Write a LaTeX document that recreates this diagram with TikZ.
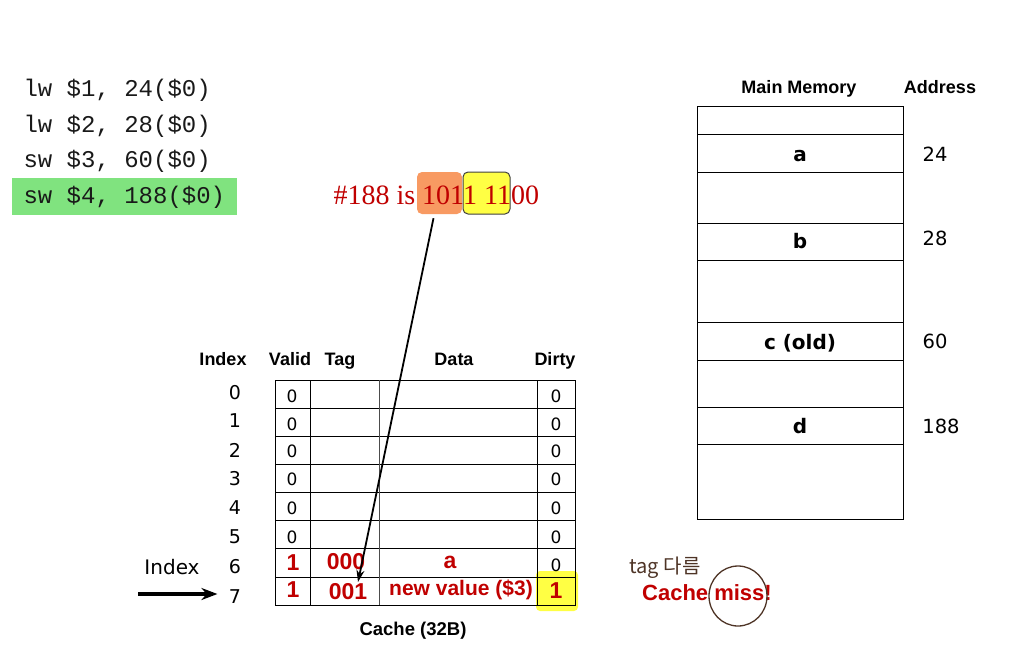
\documentclass[tikz,border=0pt]{standalone}
\usepackage{fontspec}
\setmainfont{Liberation Sans}
\newfontfamily\codefont{Liberation Mono}
\newfontfamily\timesfont{Liberation Serif}
\newfontfamily\tahfont{DejaVu Sans}
\newfontfamily\krfont{Noto Sans CJK KR}
\usetikzlibrary{arrows.meta,calc}
\definecolor{hlgreen}{HTML}{80E37F}
\definecolor{hlorange}{HTML}{F89A62}
\definecolor{hlyellow}{HTML}{FFFF44}
\definecolor{darkred}{HTML}{C00000}
\definecolor{inkbrown}{HTML}{4E3426}

\begin{document}
\begin{tikzpicture}[x=1pt, y=-1pt,
  code/.style={anchor=west, font=\codefont\fontsize{24}{26}\selectfont, text=black!90},
  head/.style={font=\bfseries\fontsize{18}{20}\selectfont, text height=13pt, text depth=4pt},
  idx/.style={font=\tahfont\fontsize{19}{21}\selectfont},
  cellnum/.style={font=\tahfont\fontsize{17}{19}\selectfont},
  hit/.style={font=\bfseries\fontsize{23}{25}\selectfont, text=darkred},
  memlbl/.style={font=\tahfont\bfseries\fontsize{20}{22}\selectfont, text height=15pt, text depth=4pt},
  addr/.style={font=\tahfont\fontsize{19.5}{22}\selectfont},
  bitbox/.style={rounded corners=5pt, minimum height=42pt, inner sep=0pt}]
  \useasboundingbox (0,0) rectangle (1020,648);

  \fill[hlgreen] (12,178) rectangle (237,215);
  \node[code] (ld1) at (20,90) {lw \$1, 24(\$0)};
  \node[code] (ld2) at (20,126) {lw \$2, 28(\$0)};
  \node[code] (st3) at (20,161) {sw \$3, 60(\$0)};
  \node[code] (st4) at (20,197) {sw \$4, 188(\$0)};

  \node[bitbox, fill=hlorange, minimum width=45pt] (tagbits) at (439.5,193) {};
  \node[bitbox, fill=hlyellow, draw=black!75, line width=1pt, minimum width=47pt] (idxbits) at (486.5,193) {};
  \node[anchor=west, font=\timesfont\fontsize{28}{30}\selectfont, text=darkred] (addr188) at (330,195) {\#188 is 1011 1100};

  \node[head] (hindex) at (223,361) {Index};
  \node[head] (hvalid) at (290,361) {Valid};
  \node[head] (htag) at (340,361) {Tag};
  \node[head] (hdata) at (454,361) {Data};
  \node[head] (hdirty) at (555,361) {Dirty};

  \fill[hlyellow, rounded corners=4pt] (536,571) rectangle (578,611);
  \draw[line width=1pt] (275,380) rectangle (575,605);
  \foreach \y in {408,436,464,492,520,548,577}
    \draw[line width=1pt] (275,\y) -- (575,\y);
  \draw[line width=1pt] (310,380) -- (310,605);
  \draw[line width=0.8pt, black!70] (379,380) -- (379,605);
  \draw[line width=1pt] (537,380) -- (537,605);

  \foreach \r/\y in {0/393,1/421,2/450,3/479,4/508,5/537,6/567,7/597}
    \node[idx] (i\r) at (235,\y) {\r};
  \foreach \r/\y in {0/396,1/424,2/451,3/479,4/508,5/537}
  {
    \node[cellnum] (v\r) at (292,\y) {0};
    \node[cellnum] (d\r) at (556,\y) {0};
  }
  \node[hit] (v6) at (293,563) {1};
  \node[hit] (t6) at (346,562) {000};
  \node[hit] (a6) at (450,562) {a};
  \node[cellnum] (d6) at (556,565) {0};
  \node[hit] (v7) at (293,590) {1};
  \node[hit] (t7) at (348,592) {001};
  \node[hit, font=\bfseries\fontsize{21}{23}\selectfont] (a7) at (461,590) {new value (\$3)};
  \node[hit] (d7) at (556,591) {1};

  \draw[line width=1.8pt, -{Stealth[length=12pt,width=8pt]}] ($(tagbits.south)+(-6,4)$) -- ($(t7.center)+(10,-10)$);

  \node[font=\tahfont\fontsize{20}{22}\selectfont] (lindex) at (172,567) {Index};
  \coordinate (arrstart) at (138,594);
  \draw[line width=3.4pt, -{Stealth[length=16pt,width=12pt]}] (arrstart) -- ($(i7.west)+(-8,-3)$);

  \node[font=\bfseries\fontsize{18.5}{20}\selectfont] (cachecap) at (413,631) {Cache (32B)};

  \node[font=\krfont\fontsize{20}{22}\selectfont, text=inkbrown] (tagdiff) at (665,568) {tag 다름};
  \node[font=\bfseries\fontsize{22}{24}\selectfont, text=darkred] (miss) at (707,593) {Cache miss!};
  \draw[inkbrown, line width=1.3pt] (738,596) ellipse (29 and 30);

  \node[head] (hmem) at (799,89) {Main Memory};
  \node[head] (haddr) at (940,89) {Address};
  \draw[line width=1pt] (697,106) rectangle (903,519);
  \foreach \y in {134,172,223,260,322,360,407,444}
    \draw[line width=1pt] (697,\y) -- (903,\y);
  \node[memlbl] (ma) at (800,156) {a};
  \node[memlbl] (mb) at (800,243) {b};
  \node[memlbl] (mc) at (800,344) {c (old)};
  \node[memlbl] (md) at (800,428) {d};
  \node[addr] (ad24) at (935,154) {24};
  \node[addr] (ad28) at (935,238) {28};
  \node[addr] (ad60) at (935,341) {60};
  \node[addr] (ad188) at (941,426) {188};
\end{tikzpicture}
\end{document}
